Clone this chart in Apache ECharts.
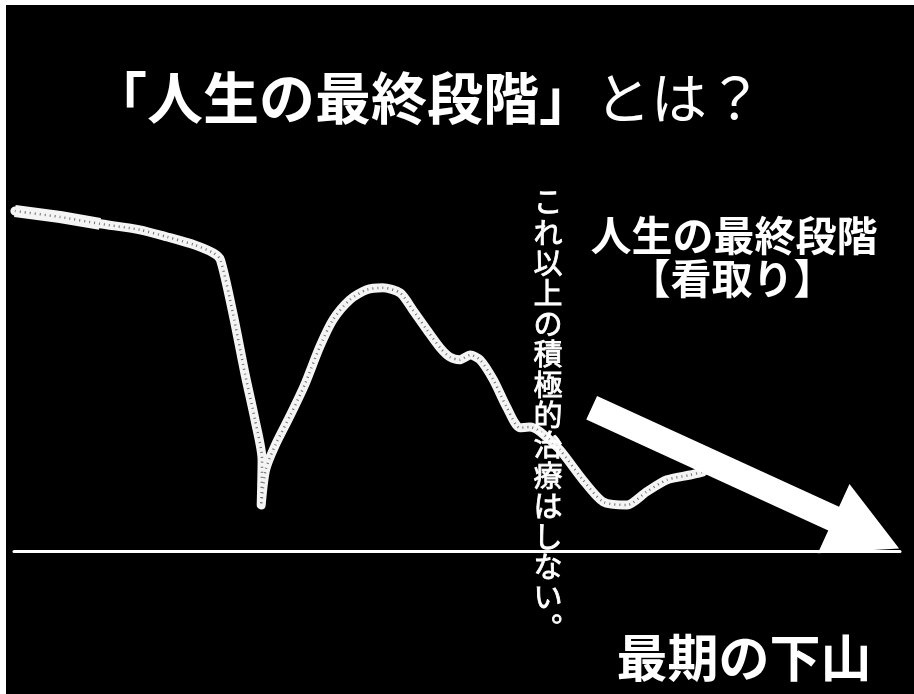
<!DOCTYPE html>
<html>
<head>
<meta charset="utf-8">
<script src="https://cdn.jsdelivr.net/npm/echarts@6/dist/echarts.min.js"></script>
<style>
  html, body { margin: 0; padding: 0; background: #fff; }
  #main { position: absolute; left: 6px; top: 5px; width: 908px; height: 689px; }
</style>
</head>
<body>
<div id="main"></div>
<script>
// 時間経過（横）と心身の状態（縦）
var timeline = [0.1, 5.2, 9.7, 14.2, 17.3, 20.4, 22.5, 23.3, 24.7, 26.1, 27.2, 28.0, 27.9, 28.4, 29.5,
  31.2, 32.8, 34.5, 36.0, 37.9, 39.8, 41.6, 43.6, 45.0, 46.6, 48.1, 49.2, 50.3, 51.5, 52.6,
  54.1, 55.6, 57.1, 58.2, 59.4, 61.6, 64.2, 66.5, 69.2, 71.4, 73.7, 76.3, 77.8];
var condition = [85, 83.5, 81.8, 80.3, 78.5, 76.5, 74.5, 72.8, 59.5, 44, 32.8, 22.8, 11.5, 20.3, 26.5,
  34, 41.5, 51, 57.8, 62.8, 65.3, 65.8, 64.5, 60.3, 55.3, 50.8, 48.5, 47.8, 49, 47.8,
  42.8, 36, 30.8, 31, 29.8, 25.3, 17.8, 12.3, 11.5, 14.8, 17.8, 19.0, 19.8];

// 下降を示す矢印（始点・終点）
var arrowStart = [65.2, 35.8];
var arrowEnd = [99.9, 0.6];

var titleMain = "「人生の最終段階」";
var titleTail = "とは？";
var sideLabel = ["人生の最終段階", "【看取り】"];
var verticalNote = "これ以上の積極的治療はしない︒";
var bottomLabel = "最期の下山";

var jp = "'Noto Sans CJK JP', sans-serif";

var points = timeline.map(function (t, i) { return [t, condition[i]]; });

function renderArrow(params, api) {
  var a = api.coord([api.value(0), api.value(1)]);
  var b = api.coord([api.value(2), api.value(3)]);
  var dx = b[0] - a[0], dy = b[1] - a[1];
  var len = Math.sqrt(dx * dx + dy * dy);
  var ux = dx / len, uy = dy / len;
  var px = -uy, py = ux;
  var shaft = 13, head = 38, headLen = 72;
  var bx = b[0] - ux * headLen, by = b[1] - uy * headLen;
  return {
    type: "polygon",
    shape: {
      points: [
        [a[0] + px * shaft, a[1] + py * shaft],
        [bx + px * shaft, by + py * shaft],
        [bx + px * head, by + py * head],
        b,
        [bx - px * head, by - py * head],
        [bx - px * shaft, by - py * shaft],
        [a[0] - px * shaft, a[1] - py * shaft]
      ]
    },
    style: { fill: "#fff" }
  };
}

var chart = echarts.init(document.getElementById("main"));

var option = {
  backgroundColor: "#000",
  animation: false,
  grid: { left: 8, right: 14, top: 146, bottom: 143 },
  xAxis: {
    type: "value", min: 0, max: 100,
    axisLine: { show: true, lineStyle: { color: "#fff", width: 3 } },
    axisTick: { show: false }, axisLabel: { show: false }, splitLine: { show: false }
  },
  yAxis: {
    type: "value", min: 0, max: 100, show: false, splitLine: { show: false }
  },
  series: [
    {
      type: "line",
      data: points,
      smooth: 0.25,
      symbol: "none",
      lineStyle: { color: "#f4f4f4", width: 9, cap: "round", join: "round" },
      z: 2
    },
    {
      // 左端の太い部分
      type: "line",
      data: points.slice(0, 3),
      symbol: "none",
      lineStyle: { color: "#f4f4f4", width: 12 },
      z: 2
    },
    {
      // 線の中のざらざらした模様
      type: "line",
      data: points,
      smooth: 0.25,
      symbol: "none",
      lineStyle: { color: "#000", width: 2.5, type: [1, 4], opacity: 0.55 },
      z: 3
    },
    {
      type: "custom",
      renderItem: renderArrow,
      data: [[arrowStart[0], arrowStart[1], arrowEnd[0], arrowEnd[1]]],
      encode: { x: [0, 2], y: [1, 3] },
      z: 5
    }
  ],
  graphic: [
    {
      type: "text", x: 421, y: 93, z: 10,
      style: {
        text: "{b|" + titleMain + "}{n|" + titleTail + "}",
        align: "center", verticalAlign: "middle",
        rich: {
          b: { fill: "#fff", fontSize: 56, fontWeight: "bold", fontFamily: jp },
          n: { fill: "#fff", fontSize: 56, fontWeight: "normal", fontFamily: jp }
        }
      }
    },
    {
      type: "text", x: 542, y: 410, z: 10,
      style: {
        text: verticalNote.split("").join("\n"),
        fill: "#fff", fontSize: 29, fontFamily: jp, lineHeight: 30.4,
        stroke: "#fff", lineWidth: 0.8,
        align: "center", verticalAlign: "middle"
      }
    },
    {
      type: "text", x: 728, y: 230, z: 10,
      style: {
        text: sideLabel[0], fill: "#fff", fontSize: 41, fontWeight: "bold", fontFamily: jp,
        align: "center", verticalAlign: "middle"
      }
    },
    {
      type: "text", x: 726, y: 273, z: 10,
      style: {
        text: sideLabel[1], fill: "#fff", fontSize: 41, fontWeight: "bold", fontFamily: jp,
        align: "center", verticalAlign: "middle"
      }
    },
    {
      type: "text", x: 738, y: 653, z: 10,
      style: {
        text: bottomLabel, fill: "#fff", fontSize: 51, fontWeight: "bold", fontFamily: jp,
        align: "center", verticalAlign: "middle"
      }
    }
  ]
};

chart.setOption(option);
</script>
</body>
</html>
